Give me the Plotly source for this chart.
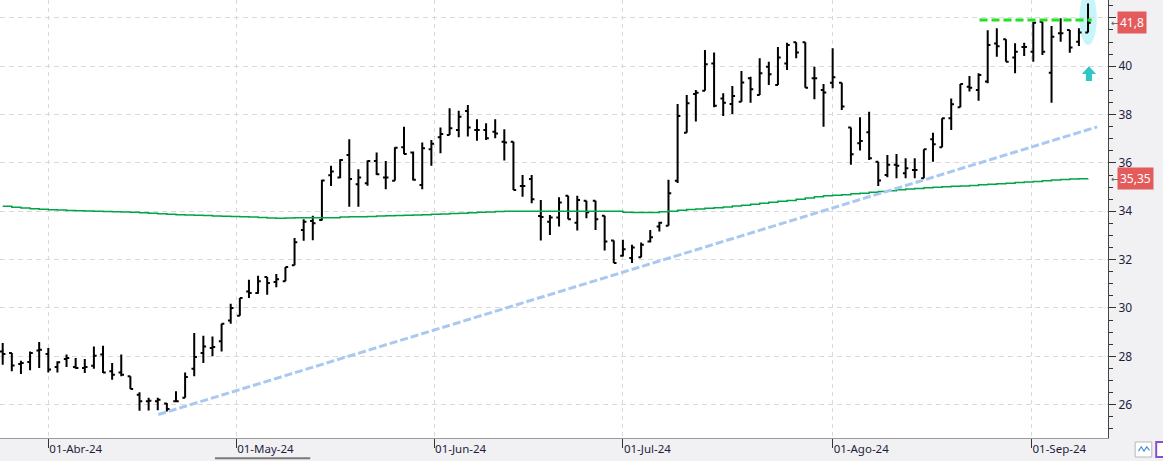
import plotly.graph_objects as go

# ---------------- data ----------------
opens = [28.2, 28.14, 27.68, 27.76, 28.24, 28.1, 27.56, 27.89, 27.56, 27.52,
         27.61, 28.07, 27.38, 27.33, 27.17, 26.41, 26.14, 26.14, 26.05, 26.14,
         26.28, 27.48, 28.14, 28.34, 28.62, 29.48, 29.68, 30.68, 30.62, 31.28,
         31.07, 31.1, 31.77, 33.23, 33.6, 33.64, 35.49, 35.4, 36.33, 35.12,
         35.16, 36.08, 35.4, 35.26, 36.65, 36.43, 35.09, 36.57, 37.06, 37.16,
         37.36, 38.15, 37.36, 37.36, 37.29, 36.88, 36.88, 35.05, 35.33, 33.8,
         33.57, 33.74, 34.64, 33.53, 34.44, 34.43, 33.81, 32.79, 32.16, 32.07,
         32.1, 32.75, 33.37, 33.4, 35.26, 37.25, 38.85, 38.99, 40.11, 38.67,
         38.44, 38.53, 39.5, 38.81, 39.98, 39.22, 40.11, 40.99, 40.99, 39.5,
         39.02, 39.32, 39.32, 37.47, 36.81, 37.27, 36.05, 35.5, 35.92, 35.57,
         35.71, 35.37, 36.98, 36.65, 37.85, 38.3, 39.15, 39.02, 39.37, 40.94,
         41.12, 40.36, 40.8, 40.6, 41.84, 39.73, 41.36, 41.5, 41.01, 41.4]
highs = [28.55, 28.14, 27.82, 28.2, 28.59, 28.34, 27.79, 28.07, 27.93, 27.89,
         28.41, 28.44, 27.72, 28.07, 27.17, 26.51, 26.28, 26.28, 26.07, 26.55,
         27.33, 28.96, 28.85, 28.82, 29.35, 30.17, 30.41, 31.17, 31.33, 31.28,
         31.4, 31.69, 32.89, 33.67, 33.81, 35.3, 35.88, 36.15, 36.98, 35.74,
         36.1, 36.43, 36.08, 36.65, 37.5, 36.47, 36.84, 36.95, 37.47, 38.26,
         38.16, 38.4, 37.81, 37.64, 37.81, 37.39, 36.88, 35.5, 35.5, 34.47,
         33.85, 34.58, 34.64, 34.64, 34.44, 34.43, 33.81, 32.79, 32.82, 32.61,
         32.71, 33.23, 33.57, 35.3, 38.44, 38.81, 39.02, 40.67, 40.57, 38.88,
         39.18, 39.8, 39.57, 40.33, 40.19, 40.8, 40.97, 40.99, 40.99, 39.98,
         39.26, 40.74, 39.32, 37.47, 37.89, 38.12, 36.05, 36.33, 36.37, 36.19,
         36.19, 36.57, 37.25, 37.85, 38.67, 39.26, 39.6, 39.71, 41.49, 41.57,
         41.12, 40.95, 40.97, 41.84, 41.84, 41.66, 41.98, 41.5, 41.57, 42.6]
lows = [27.65, 27.38, 27.27, 27.42, 27.52, 27.33, 27.33, 27.56, 27.48, 27.31,
        27.48, 27.31, 27.03, 27.17, 26.65, 25.75, 25.76, 25.77, 25.72, 26.1,
        26.28, 27.17, 27.72, 28.0, 28.2, 29.35, 29.68, 30.41, 30.59, 30.55,
        30.86, 31.1, 31.77, 32.78, 32.8, 33.62, 35.05, 35.37, 34.19, 34.19,
        35.06, 35.5, 34.91, 35.26, 36.36, 35.27, 34.91, 35.88, 36.4, 37.16,
        37.06, 37.09, 36.92, 36.95, 37.02, 36.1, 34.88, 34.6, 34.33, 32.79,
        33.02, 33.37, 33.67, 33.2, 33.71, 33.23, 32.38, 31.86, 32.13, 31.86,
        32.1, 32.71, 33.16, 33.4, 35.17, 37.25, 37.71, 38.99, 38.3, 37.94,
        38.02, 38.53, 38.49, 38.81, 39.22, 39.22, 39.84, 40.33, 39.11, 38.63,
        37.5, 39.09, 38.19, 35.92, 36.51, 36.12, 35.05, 35.41, 35.37, 35.37,
        35.37, 35.37, 36.05, 36.65, 37.36, 38.3, 38.95, 38.57, 39.3, 40.39,
        40.19, 39.71, 40.42, 40.19, 40.46, 38.49, 41.01, 40.56, 40.84, 41.4]
closes = [28.1, 27.62, 27.72, 28.14, 28.27, 27.45, 27.75, 27.93, 27.52, 27.56,
          28.02, 27.33, 27.24, 27.24, 26.65, 26.14, 26.16, 26.2, 25.82, 26.14,
          27.14, 27.97, 28.41, 28.38, 29.35, 30.0, 30.41, 30.62, 31.1, 31.03,
          31.19, 31.69, 32.72, 33.57, 33.5, 35.27, 35.64, 36.12, 35.33, 35.4,
          36.08, 35.53, 35.4, 36.63, 36.37, 35.3, 36.61, 36.79, 37.2, 37.43,
          37.91, 37.47, 37.36, 37.02, 37.22, 36.84, 34.88, 35.05, 34.5, 33.76,
          33.74, 34.36, 33.67, 34.47, 33.96, 33.67, 32.75, 31.86, 32.43, 32.5,
          32.61, 32.93, 33.53, 34.75, 37.94, 38.47, 38.9, 40.08, 38.36, 38.49,
          38.77, 39.33, 39.05, 39.71, 39.67, 40.36, 40.88, 40.57, 39.11, 39.5,
          38.91, 39.54, 38.33, 36.36, 36.91, 36.19, 35.27, 35.92, 35.88, 35.78,
          35.71, 36.57, 36.77, 37.85, 38.43, 39.26, 39.11, 39.64, 40.88, 40.83,
          40.19, 40.6, 40.8, 41.8, 40.6, 41.22, 41.36, 40.78, 41.4, 41.8]
moving_avg = [34.21, 34.17, 34.13, 34.10, 34.08, 34.06, 34.05, 34.03, 34.02, 34.01,
              34.00, 33.99, 33.98, 33.97, 33.96, 33.94, 33.92, 33.90, 33.88, 33.86,
              33.85, 33.83, 33.82, 33.80, 33.79, 33.78, 33.77, 33.76, 33.74, 33.72,
              33.71, 33.72, 33.73, 33.73, 33.73, 33.73, 33.73, 33.76, 33.77, 33.77,
              33.78, 33.80, 33.81, 33.82, 33.84, 33.85, 33.86, 33.88, 33.89, 33.91,
              33.92, 33.94, 33.96, 33.97, 33.99, 34.00, 34.00, 34.00, 34.00, 34.00,
              34.00, 34.00, 34.00, 34.00, 34.00, 34.00, 34.00, 34.00, 33.96, 33.95,
              33.95, 33.95, 33.98, 34.00, 34.04, 34.07, 34.09, 34.12, 34.15, 34.18,
              34.22, 34.25, 34.29, 34.33, 34.37, 34.41, 34.45, 34.50, 34.55, 34.60,
              34.64, 34.66, 34.68, 34.72, 34.75, 34.79, 34.82, 34.85, 34.89, 34.92,
              34.94, 34.97, 34.99, 35.01, 35.03, 35.05, 35.07, 35.10, 35.12, 35.14,
              35.16, 35.19, 35.21, 35.23, 35.26, 35.29, 35.31, 35.33, 35.34, 35.35]
bar_index = list(range(len(opens)))

month_labels = ["01-Abr-24", "01-May-24", "01-Jun-24", "01-Jul-24", "01-Ago-24", "01-Sep-24"]
month_at = [5, 25.6, 47.3, 68, 91, 112.8]          # trading-day index of month start
price_ticks = [26, 28, 30, 32, 34, 36, 38, 40, 42]
price_tick_text = ["26", "28", "30", "32", "34", "36", "38", "40", ""]  # 42 hidden under price tag

last_price = 41.8
last_price_text = "41,8"
ma_last_text = "35,35"
resistance_level = 41.91
resistance_from, resistance_to = 107.1, 119.4
trend_from = (17.06, 25.59)
trend_to = (120.0, 37.49)
highlight_box = (118.05, 119.96, 40.88, 43.1)      # index range, price range
signal_arrow = (119.1, 40.0, 39.68, 39.39)         # index, tip, neck, base prices

# ---------------- figure ----------------
fig = go.Figure()

fig.add_trace(go.Scatter(
    x=bar_index, y=moving_avg, mode="lines",
    line=dict(color="#00a548", width=1.5, shape="hv"),
    hoverinfo="skip", showlegend=False))

fig.add_trace(go.Ohlc(
    x=bar_index, open=opens, high=highs, low=lows, close=closes,
    increasing=dict(line=dict(color="#000000", width=2)),
    decreasing=dict(line=dict(color="#000000", width=2)),
    tickwidth=0.3, hoverinfo="skip", showlegend=False))

shapes = []
hx0, hx1, hy0, hy1 = highlight_box
shapes.append(dict(type="circle", xref="x", yref="y", x0=hx0, x1=hx1, y0=hy0, y1=hy1,
                   fillcolor="#c8f5f9", line=dict(width=0), layer="below"))
shapes.append(dict(type="line", xref="x", yref="y", x0=resistance_from, x1=resistance_to,
                   y0=resistance_level, y1=resistance_level,
                   line=dict(color="#22e022", width=3, dash="8px,4px")))
shapes.append(dict(type="line", xref="x", yref="y", x0=trend_from[0], y0=trend_from[1],
                   x1=trend_to[0], y1=trend_to[1],
                   line=dict(color="#a9c9f0", width=3, dash="8px,3px")))
cx, tip, neck, base = signal_arrow
hw, sw = 0.78, 0.33
path = (f"M {cx-hw},{neck} L {cx},{tip} L {cx+hw},{neck} L {cx+sw},{neck} "
        f"L {cx+sw},{base} L {cx-sw},{base} L {cx-sw},{neck} Z")
shapes.append(dict(type="path", xref="x", yref="y", path=path,
                   fillcolor="#2fc6c6", line=dict(width=0)))
shapes.append(dict(type="line", xref="paper", yref="paper", x0=0.194, x1=0.28,
                   y0=-0.046, y1=-0.046, line=dict(color="#7a7a7a", width=2)))
shapes.append(dict(type="rect", xref="paper", yref="paper", x0=1.0245, x1=1.0395,
                   y0=-0.0434, y1=-0.0091, fillcolor="#ffffff", line=dict(color="#b8b8b8", width=1)))
shapes.append(dict(type="path", xref="paper", yref="paper",
                   path="M 1.0275,-0.030 L 1.030,-0.020 L 1.0325,-0.030 L 1.035,-0.020 L 1.0375,-0.028",
                   line=dict(color="#4a90d9", width=1.2)))
shapes.append(dict(type="rect", xref="paper", yref="paper", x0=1.0435, x1=1.06,
                   y0=-0.0434, y1=-0.0091, fillcolor="#ffffff", line=dict(color="#8a4fd0", width=2)))

annotations = [
    dict(xref="paper", yref="y", x=1.0081, y=last_price, text=last_price_text,
         xanchor="left", yanchor="middle", showarrow=False, bgcolor="#e45b5b",
         borderpad=2, font=dict(color="#ffffff", size=12, family="Noto Sans")),
    dict(xref="paper", yref="y", x=1.0081, y=moving_avg[-1], text=ma_last_text,
         xanchor="left", yanchor="middle", showarrow=False, bgcolor="#e45b5b",
         borderpad=2, font=dict(color="#ffffff", size=12, family="Noto Sans")),
    dict(xref="paper", yref="y", x=1.0005, y=last_price, text="←",
         xanchor="left", yanchor="middle", showarrow=False,
         font=dict(color="#555555", size=9, family="DejaVu Sans")),
    dict(xref="paper", yref="y", x=1.0005, y=moving_avg[-1], text="←",
         xanchor="left", yanchor="middle", showarrow=False,
         font=dict(color="#555555", size=9, family="DejaVu Sans")),
]

fig.update_layout(
    width=1163, height=461,
    margin=dict(l=0, r=55, t=0, b=23, pad=0),
    paper_bgcolor="#f1f1f4", plot_bgcolor="#ffffff",
    showlegend=False, shapes=shapes, annotations=annotations,
    font=dict(family="Noto Sans", size=11.5, color="#1e1e3c"),
    xaxis=dict(
        range=[-0.296, 121.19], rangeslider=dict(visible=False),
        tickmode="array", tickvals=month_at, ticktext=month_labels,
        ticks="outside", ticklen=9, tickcolor="#333333", tickwidth=1,
        ticklabelposition="outside right",
        showgrid=True, gridcolor="#d9d9d9", griddash="4px,4px", gridwidth=1,
        showline=True, linecolor="#9a9a9a", linewidth=1, zeroline=False,
        tickfont=dict(size=11.5, color="#1e1e3c"), fixedrange=True),
    yaxis=dict(
        side="right", range=[24.62, 42.74],
        tickmode="array", tickvals=price_ticks, ticktext=price_tick_text,
        ticks="outside", ticklen=7, tickcolor="#333333", tickwidth=1,
        minor=dict(dtick=0.5, ticks="outside", ticklen=4, tickcolor="#333333", showgrid=False),
        showgrid=True, gridcolor="#d9d9d9", griddash="5px,4px", gridwidth=1,
        showline=True, linecolor="#444444", linewidth=1, zeroline=False,
        tickfont=dict(size=12, color="#1e1e3c"), fixedrange=True),
)

fig.write_html("out.html")
